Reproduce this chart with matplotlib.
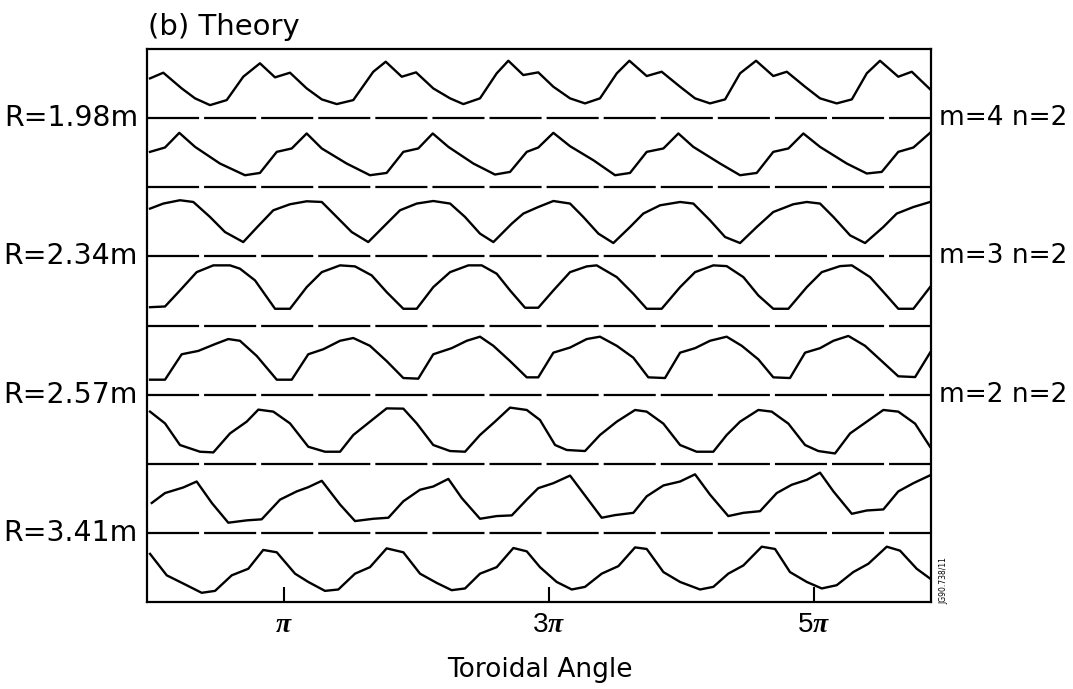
import numpy as np
import matplotlib.pyplot as plt

plt.rcParams['lines.scale_dashes'] = False
plt.rcParams['mathtext.fontset'] = 'custom'
plt.rcParams['mathtext.rm'] = 'Liberation Sans'
plt.rcParams['mathtext.it'] = 'Liberation Serif:italic:bold'

# toroidal angle (units of pi) and normalised signal for each trace, top to bottom
row1_t = [-0.011, 0.089, 0.228, 0.329, 0.442, 0.568, 0.693, 0.819, 0.933, 1.046, 1.172, 1.286, 1.399, 1.524, 1.675, 1.769, 1.890, 1.998, 2.128, 2.255, 2.355, 2.481, 2.607, 2.695, 2.808, 2.921, 3.035, 3.161, 3.274, 3.387, 3.514, 3.609, 3.740, 3.853, 3.992, 4.105, 4.218, 4.332, 4.445, 4.566, 4.696, 4.798, 4.936, 5.049, 5.175, 5.289, 5.402, 5.502, 5.640, 5.742, 5.881]
row1_v = [0.575, 0.657, 0.430, 0.286, 0.188, 0.261, 0.599, 0.793, 0.590, 0.657, 0.430, 0.271, 0.203, 0.261, 0.671, 0.816, 0.599, 0.662, 0.430, 0.286, 0.203, 0.286, 0.648, 0.830, 0.623, 0.662, 0.454, 0.286, 0.213, 0.286, 0.648, 0.830, 0.609, 0.671, 0.454, 0.286, 0.213, 0.271, 0.648, 0.830, 0.609, 0.671, 0.454, 0.286, 0.213, 0.271, 0.648, 0.830, 0.599, 0.671, 0.416]

row2_t = [-0.011, 0.102, 0.210, 0.329, 0.517, 0.706, 0.819, 0.946, 1.059, 1.172, 1.286, 1.474, 1.650, 1.776, 1.902, 2.015, 2.124, 2.242, 2.431, 2.594, 2.708, 2.834, 2.921, 3.035, 3.161, 3.337, 3.501, 3.614, 3.740, 3.866, 3.979, 4.092, 4.294, 4.445, 4.571, 4.696, 4.810, 4.923, 5.049, 5.251, 5.402, 5.515, 5.640, 5.754, 5.880]
row2_v = [0.512, 0.575, 0.787, 0.584, 0.343, 0.174, 0.207, 0.512, 0.561, 0.778, 0.561, 0.343, 0.174, 0.207, 0.512, 0.561, 0.778, 0.584, 0.343, 0.184, 0.222, 0.512, 0.575, 0.787, 0.594, 0.391, 0.174, 0.207, 0.512, 0.561, 0.778, 0.584, 0.343, 0.174, 0.207, 0.512, 0.561, 0.778, 0.584, 0.343, 0.199, 0.222, 0.512, 0.575, 0.787]

row3_t = [-0.011, 0.089, 0.215, 0.316, 0.442, 0.555, 0.693, 0.804, 0.920, 1.046, 1.172, 1.286, 1.399, 1.512, 1.637, 1.776, 1.877, 2.003, 2.128, 2.255, 2.368, 2.481, 2.582, 2.721, 2.808, 2.921, 3.035, 3.161, 3.261, 3.375, 3.488, 3.614, 3.714, 3.841, 3.992, 4.092, 4.218, 4.332, 4.445, 4.571, 4.696, 4.847, 4.949, 5.049, 5.150, 5.276, 5.389, 5.527, 5.628, 5.754, 5.880]
row3_v = [0.691, 0.764, 0.812, 0.787, 0.570, 0.352, 0.207, 0.435, 0.667, 0.754, 0.797, 0.787, 0.570, 0.352, 0.207, 0.474, 0.667, 0.764, 0.801, 0.764, 0.570, 0.329, 0.207, 0.474, 0.619, 0.714, 0.801, 0.764, 0.570, 0.329, 0.193, 0.425, 0.619, 0.739, 0.787, 0.764, 0.522, 0.280, 0.193, 0.425, 0.642, 0.754, 0.787, 0.764, 0.570, 0.304, 0.193, 0.425, 0.619, 0.714, 0.787]

row4_t = [-0.011, 0.102, 0.215, 0.341, 0.467, 0.593, 0.668, 0.782, 0.933, 1.046, 1.172, 1.286, 1.424, 1.537, 1.663, 1.776, 1.902, 2.003, 2.128, 2.255, 2.393, 2.494, 2.607, 2.708, 2.821, 2.921, 3.035, 3.161, 3.287, 3.362, 3.514, 3.639, 3.740, 3.853, 3.992, 4.105, 4.243, 4.344, 4.470, 4.583, 4.696, 4.810, 4.949, 5.062, 5.200, 5.289, 5.427, 5.540, 5.640, 5.754, 5.880]
row4_v = [0.265, 0.275, 0.507, 0.772, 0.870, 0.870, 0.822, 0.652, 0.242, 0.242, 0.555, 0.772, 0.870, 0.855, 0.725, 0.483, 0.242, 0.242, 0.555, 0.772, 0.870, 0.870, 0.749, 0.507, 0.257, 0.257, 0.507, 0.772, 0.855, 0.870, 0.700, 0.459, 0.242, 0.242, 0.555, 0.772, 0.870, 0.859, 0.700, 0.435, 0.242, 0.242, 0.555, 0.772, 0.859, 0.870, 0.700, 0.459, 0.242, 0.242, 0.555]

row5_t = [-0.011, 0.102, 0.228, 0.353, 0.480, 0.580, 0.668, 0.795, 0.946, 1.059, 1.184, 1.298, 1.424, 1.524, 1.650, 1.776, 1.902, 2.015, 2.128, 2.267, 2.381, 2.481, 2.582, 2.708, 2.834, 2.921, 3.035, 3.161, 3.287, 3.387, 3.514, 3.639, 3.752, 3.878, 3.992, 4.105, 4.218, 4.344, 4.458, 4.583, 4.696, 4.822, 4.936, 5.049, 5.150, 5.263, 5.389, 5.515, 5.640, 5.767, 5.880]
row5_v = [0.216, 0.216, 0.584, 0.632, 0.731, 0.804, 0.779, 0.559, 0.216, 0.216, 0.584, 0.657, 0.779, 0.819, 0.706, 0.485, 0.240, 0.231, 0.584, 0.672, 0.779, 0.838, 0.706, 0.485, 0.250, 0.250, 0.607, 0.681, 0.804, 0.838, 0.706, 0.534, 0.250, 0.240, 0.607, 0.672, 0.779, 0.838, 0.706, 0.510, 0.250, 0.240, 0.607, 0.672, 0.779, 0.849, 0.706, 0.485, 0.265, 0.254, 0.607]

row6_t = [-0.011, 0.102, 0.215, 0.366, 0.467, 0.593, 0.719, 0.807, 0.920, 1.046, 1.184, 1.310, 1.424, 1.524, 1.650, 1.776, 1.902, 2.003, 2.128, 2.255, 2.368, 2.481, 2.594, 2.708, 2.834, 2.934, 3.048, 3.136, 3.274, 3.387, 3.514, 3.652, 3.740, 3.866, 3.992, 4.117, 4.243, 4.344, 4.445, 4.583, 4.684, 4.810, 4.936, 5.036, 5.162, 5.276, 5.402, 5.527, 5.640, 5.767, 5.880]
row6_v = [0.754, 0.584, 0.271, 0.174, 0.164, 0.439, 0.609, 0.783, 0.754, 0.584, 0.246, 0.174, 0.174, 0.416, 0.609, 0.801, 0.797, 0.584, 0.271, 0.184, 0.174, 0.416, 0.609, 0.812, 0.778, 0.633, 0.271, 0.199, 0.184, 0.416, 0.609, 0.778, 0.754, 0.580, 0.271, 0.174, 0.174, 0.416, 0.609, 0.778, 0.754, 0.580, 0.271, 0.184, 0.149, 0.439, 0.609, 0.778, 0.754, 0.580, 0.246]

row7_t = [0.002, 0.102, 0.240, 0.341, 0.457, 0.580, 0.719, 0.832, 0.971, 1.097, 1.184, 1.286, 1.424, 1.537, 1.675, 1.789, 1.902, 2.028, 2.128, 2.242, 2.343, 2.481, 2.607, 2.721, 2.834, 2.921, 3.035, 3.161, 3.400, 3.501, 3.639, 3.740, 3.866, 3.992, 4.105, 4.218, 4.356, 4.470, 4.596, 4.722, 4.835, 4.949, 5.049, 5.150, 5.289, 5.402, 5.527, 5.640, 5.754, 5.887]
row7_v = [0.433, 0.576, 0.657, 0.743, 0.429, 0.147, 0.181, 0.196, 0.481, 0.600, 0.661, 0.753, 0.410, 0.171, 0.204, 0.219, 0.457, 0.624, 0.671, 0.781, 0.504, 0.204, 0.243, 0.253, 0.481, 0.647, 0.719, 0.829, 0.219, 0.257, 0.290, 0.529, 0.686, 0.743, 0.847, 0.553, 0.243, 0.290, 0.314, 0.576, 0.696, 0.767, 0.871, 0.600, 0.276, 0.324, 0.339, 0.600, 0.719, 0.839]

row8_t = [-0.011, 0.115, 0.240, 0.379, 0.480, 0.606, 0.731, 0.844, 0.946, 1.084, 1.184, 1.310, 1.411, 1.537, 1.650, 1.776, 1.902, 2.028, 2.154, 2.267, 2.368, 2.481, 2.607, 2.733, 2.834, 2.934, 3.060, 3.174, 3.274, 3.400, 3.526, 3.652, 3.740, 3.866, 3.992, 4.143, 4.243, 4.356, 4.470, 4.609, 4.709, 4.822, 4.949, 5.062, 5.175, 5.300, 5.414, 5.553, 5.653, 5.779, 5.880]
row8_v = [0.696, 0.386, 0.267, 0.133, 0.161, 0.386, 0.481, 0.753, 0.719, 0.410, 0.290, 0.161, 0.181, 0.410, 0.504, 0.776, 0.719, 0.410, 0.276, 0.171, 0.196, 0.410, 0.504, 0.781, 0.733, 0.504, 0.290, 0.181, 0.219, 0.410, 0.519, 0.790, 0.767, 0.433, 0.290, 0.181, 0.219, 0.410, 0.529, 0.800, 0.767, 0.433, 0.290, 0.196, 0.243, 0.433, 0.553, 0.800, 0.743, 0.481, 0.339]

radius_labels = ['R=1.98m', 'R=2.34m', 'R=2.57m', 'R=3.41m']
mode_labels = ['m=4 n=2', 'm=3 n=2', 'm=2 n=2']
tick_pos = [1, 3, 5]
tick_labels = [r'$\pi$', r'$3\pi$', r'$5\pi$']

rows = [(row1_t, row1_v), (row2_t, row2_v), (row3_t, row3_v), (row4_t, row4_v),
        (row5_t, row5_v), (row6_t, row6_v), (row7_t, row7_v), (row8_t, row8_v)]

W, H = 1073, 689
fig = plt.figure(figsize=(W / 100, H / 100), dpi=100)
ax = fig.add_axes([147 / W, 1 - 602 / H, 784 / W, 553 / H])

n = len(rows)
for k, (t, v) in enumerate(rows):
    ax.plot(t, np.array(v) + (n - 1 - k), color='k', lw=1.7)

for y in range(1, n):
    ax.axhline(y, color='k', lw=1.6, ls=(0, (37.5, 3.6)))

ax.set_xlim(-0.034, 5.887)
ax.set_ylim(0, n)
ax.set_yticks([])
ax.set_xticks(tick_pos)
ax.set_xticklabels(tick_labels, fontsize=20)
ax.tick_params(axis='x', direction='in', length=11, width=1.5, pad=6)
for s in ax.spines.values():
    s.set_linewidth(1.6)

def px(x, y):
    return x / W, 1 - y / H

font = ['DejaVu Sans']
for i, lab in enumerate(radius_labels):
    yl = 602 - (n - 1 - 2 * i) * 553 / n
    fig.text(*px(138, yl), lab, ha='right', va='center', fontsize=20.4, family=font)
for i, lab in enumerate(mode_labels):
    yl = 602 - (n - 1 - 2 * i) * 553 / n
    fig.text(*px(939, yl), lab, ha='left', va='center', fontsize=19, family=font)

fig.text(*px(148, 27), '(b) Theory', ha='left', va='center', fontsize=21, family=font)
fig.text(*px(540, 670), 'Toroidal Angle', ha='center', va='center', fontsize=19, family=font)
fig.text(*px(944, 604), 'JG90.738/11', ha='center', va='bottom', rotation=90, fontsize=5.5, family=font)

fig.savefig('out.png', dpi=100)
